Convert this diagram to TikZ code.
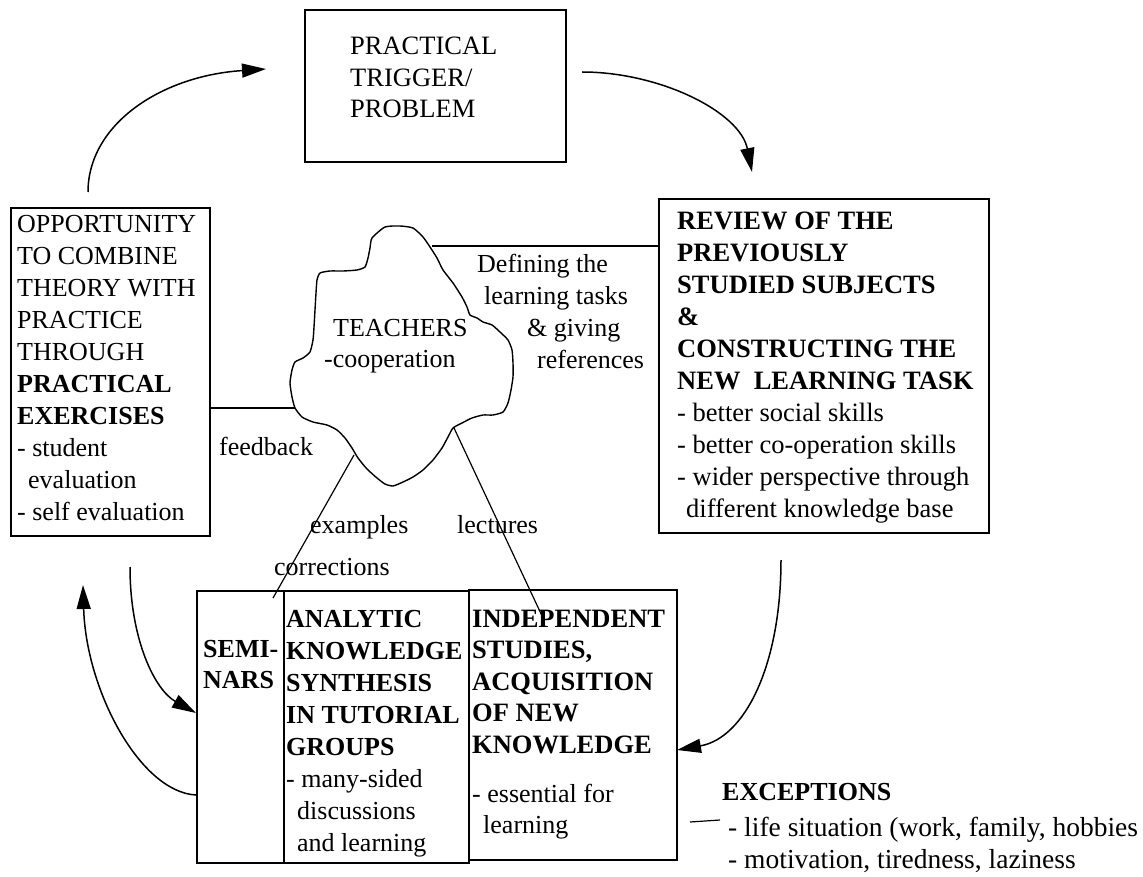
\documentclass[tikz,border=0pt]{standalone}
\usepackage{fontspec}
\setmainfont{Liberation Serif}
\usetikzlibrary{arrows.meta,calc}
% left-aligned block of lines whose baseline is the first line
\newcommand{\stack}[1]{\begin{tabular}[t]{@{}l@{}}#1\end{tabular}}

\begin{document}
\begin{tikzpicture}[x=1pt,y=-1pt,
  box/.style={draw, line width=1.6pt, anchor=north west, inner sep=0pt},
  txt/.style={anchor=base west, inner sep=0pt, font=\fontsize{26.5}{31.5}\selectfont},
  flow/.style={line width=1.5pt, -{Triangle[length=24pt,width=14pt]}},
  link/.style={line width=1.2pt},
  cloudline/.style={line width=1.4pt},
]
\fill[white] (0,0) rectangle (1143,877);
\useasboundingbox (0,0) rectangle (1143,877);

% ---- boxes ----
\node[box, minimum width=261pt, minimum height=152pt] (top)  at (304,9)   {};
\node[box, minimum width=199pt, minimum height=328pt] (lbox) at (10,207)  {};
\node[box, minimum width=330pt, minimum height=334pt] (rbox) at (658,198) {};
\node[box, minimum width=87pt,  minimum height=272pt] (sem)  at (196,590) {};
\node[box, minimum width=185pt, minimum height=272pt] (ana)  at (283,590) {};
\node[box, minimum width=208pt, minimum height=270pt] (ind)  at (468,589) {};

% ---- box texts ----
\node[txt] (ttop) at (350,55) {\stack{PRACTICAL\\TRIGGER/\\PROBLEM}};

\node[txt, font=\fontsize{26}{32}\selectfont] (tl) at (17,233)
  {\stack{OPPORTUNITY\\TO COMBINE\\THEORY WITH\\PRACTICE\\THROUGH\\
  \textbf{PRACTICAL}\\\textbf{EXERCISES}\\- student\\\hspace*{11pt}evaluation\\- self evaluation}};

\node[txt, font=\fontsize{26.5}{32}\selectfont] (tr) at (677,230)
  {\stack{\textbf{REVIEW OF THE}\\\textbf{PREVIOUSLY}\\\textbf{STUDIED SUBJECTS}\\\textbf{\&}\\
  \textbf{CONSTRUCTING THE}\\\textbf{NEW\ \ LEARNING TASK}\\- better social skills\\
  - better co-operation skills\\- wider perspective through\\\hspace*{9pt}different knowledge base}};

\node[txt, font=\fontsize{26}{31}\bfseries\selectfont] (tsem) at (203,657) {\stack{SEMI-\\NARS}};

\node[txt, font=\fontsize{26}{32}\selectfont] (tana) at (286,627)
  {\stack{\textbf{ANALYTIC}\\\textbf{KNOWLEDGE}\\\textbf{SYNTHESIS}\\\textbf{IN TUTORIAL}\\
  \textbf{GROUPS}\\- many-sided\\\hspace*{11pt}discussions\\\hspace*{11pt}and learning}};

\node[txt, font=\fontsize{26.5}{31.5}\selectfont] (tind) at (472,627)
  {\stack{\textbf{INDEPENDENT}\\\textbf{STUDIES,}\\\textbf{ACQUISITION}\\\textbf{OF NEW}\\\textbf{KNOWLEDGE}}};
\node[txt, font=\fontsize{26}{31}\selectfont] (tind2) at (472,802)
  {\stack{- essential for\\\hspace*{11pt}learning}};

% ---- teachers cloud ----
\draw[cloudline] plot[smooth cycle, tension=0.35] coordinates {
  (372,238) (385,227) (400,226) (413,228) (423,237) (430,247) (437,258) (443,270)
  (453,283) (462,297) (467,307) (470,315) (477,318) (483,322) (492,325) (500,332)
  (508,340) (512,350) (513,363) (513,377) (511,390) (508,403) (503,412) (493,415)
  (483,415) (472,418) (462,423) (453,428) (448,437) (442,448) (433,460) (423,470)
  (413,477) (403,482) (393,486) (385,484) (377,478) (367,469) (358,458) (352,448)
  (345,438) (337,430) (327,425) (313,422) (302,417) (295,408) (292,397) (290,383)
  (292,370) (295,362) (303,358) (310,352) (313,340) (314,327) (315,310) (316,293)
  (317,280) (320,273) (330,271) (343,271) (357,270) (365,267) (368,258) (370,248)};
\node[txt, font=\fontsize{26}{31}\selectfont] (teach) at (324,337)
  {\stack{\hspace*{9pt}TEACHERS\\-cooperation}};

% points where the connectors meet the cloud
\coordinate (cR) at (432,246);
\coordinate (cL) at (295,408);
\coordinate (cEx) at (354,455);
\coordinate (cLe) at (454,428);
% free ends of the connectors down to the lower boxes
\coordinate (exEnd) at (273,598);
\coordinate (leEnd) at (543,618);

% ---- connectors ----
\draw[link] (cR) -- (rbox.west |- cR);
\draw[link] (lbox.east |- cL) -- (cL);
\draw[link] (cEx) -- (exEnd);
\draw[link] (cLe) -- (leEnd);

% ---- connector labels ----
\node[txt, font=\fontsize{26}{31.7}\selectfont] (ldef) at (477,273)
  {\stack{Defining the\\\hspace*{7pt}learning tasks\\\hspace*{50pt}\& giving\\\hspace*{60pt}references}};
\node[txt, font=\fontsize{26}{31}\selectfont] (lfeed) at (219,455) {feedback};
\node[txt, font=\fontsize{26}{31}\selectfont] (lex)   at (310,533) {examples};
\node[txt, font=\fontsize{26}{31}\selectfont] (llec)  at (457,533) {lectures};
\node[txt, font=\fontsize{26}{31}\selectfont] (lcor)  at (274,575) {corrections};

% ---- cycle arrows ----
\coordinate (a1s) at (88,192);   \coordinate (a1e) at (266,69);
\coordinate (a2s) at (582,72);   \coordinate (a2e) at (752,172);
\coordinate (a3s) at (781,560);  \coordinate (a3e) at (677,750);
\coordinate (a4s) at (130,567);  \coordinate (a4e) at (196,713);
\coordinate (a5s) at (196,795);  \coordinate (a5e) at (83,585);

\draw[flow] (a1s) .. controls (88,125) and (160,76) .. (a1e);
\draw[flow] (a2s) .. controls (660,72) and (740,112) .. (a2e);
\draw[flow] (a3s) .. controls (781,665) and (745,738) .. (a3e);
\draw[flow] (a4s) .. controls (130,640) and (155,690) .. (a4e);
\draw[flow] (a5s) .. controls (140,792) and (86,690) .. (a5e);

% ---- exceptions ----
\node[txt, font=\fontsize{26}{31}\bfseries\selectfont] (exc) at (722,800) {EXCEPTIONS};
\node[txt, font=\fontsize{27.5}{32}\selectfont] (excl) at (728,836)
  {\stack{- life situation (work, family, hobbies\\- motivation, tiredness, laziness}};
\coordinate (d1) at (690,822);
\coordinate (d2) at (720,820);
\draw[link] (d1) -- (d2);

\end{tikzpicture}
\end{document}
